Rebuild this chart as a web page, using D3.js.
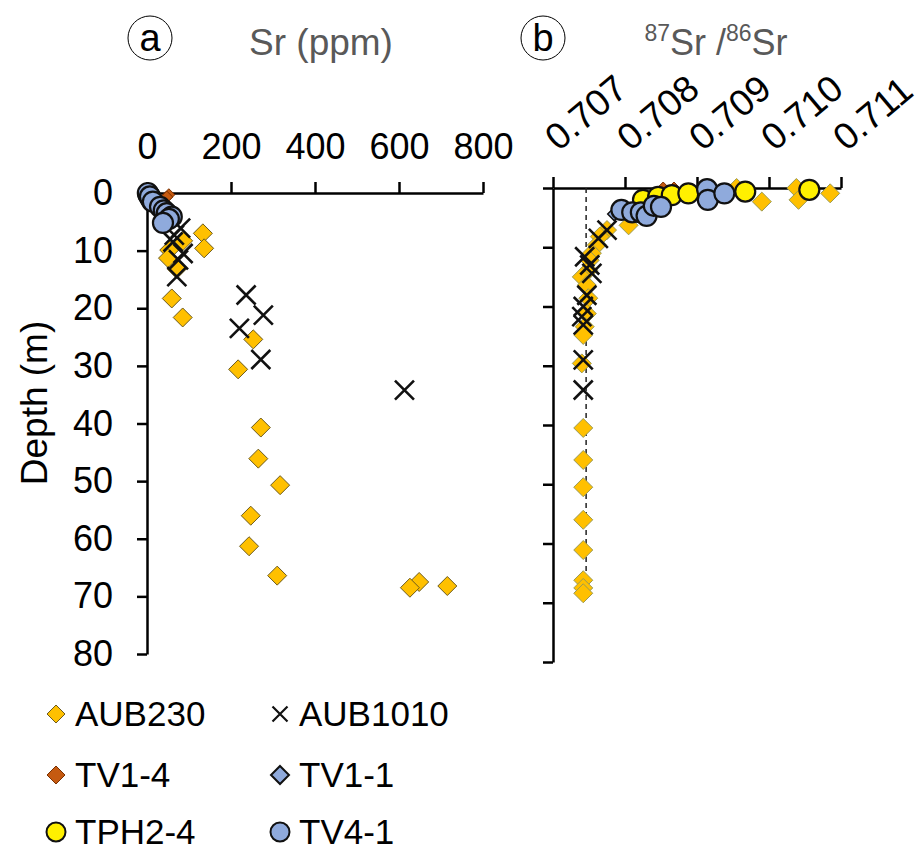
<!DOCTYPE html>
<html>
<head>
<meta charset="utf-8">
<script src="https://cdn.jsdelivr.net/npm/d3@7"></script>
<style>
  body { margin: 0; background: #fff; }
  svg text { font-family: "Liberation Sans", Arial, sans-serif; }
</style>
</head>
<body>
<div id="chart"></div>
<script>
// ---- data: [depth (m), value] ----
const srTicks = [0, 200, 400, 600, 800];
const ratioTicks = [0.707, 0.708, 0.709, 0.710, 0.711];
const depthTicks = [0, 10, 20, 30, 40, 50, 60, 70, 80];

const aub230Sr = [[7.0,133],[8.3,86],[9.6,136],[9.9,53],[11.3,50],[13.2,71],[18.3,59],[21.6,85],
  [25.4,253],[30.6,217],[40.7,271],[46.1,265],[50.7,317],[56.0,247],[61.3,243],[66.4,310],
  [67.5,648],[68.2,715],[68.5,626]];
const aub1010Sr = [[6.1,80],[7.3,65],[8.5,62],[10.5,86],[11.6,75],[14.5,71],[17.7,236],[21.2,277],
  [23.5,220],[28.9,271],[34.2,613]];
const tv14Sr = [[0.3,52],[0.7,47]];
const tv11Sr = [[0.2,5],[0.6,10]];
const tph24Sr = [[0.2,3],[0.6,6],[1.0,9],[1.4,12]];
const tv41Sr = [[0.0,2],[0.6,7],[1.5,14],[2.4,31],[3.0,40],[3.5,47],[4.1,59],[4.5,52],[5.2,38]];

const aub230Ratio = [[0,0.71038],[0.9,0.71085],[2.0,0.71041],[2.3,0.7099],[0,0.70955],[6.3,0.70805],
  [7.1,0.70775],[8.2,0.70765],[9.6,0.70761],[11,0.70754],[12.2,0.70751],[13.9,0.70749],[15,0.7074],
  [16.4,0.70747],[18.6,0.70749],[21.2,0.70747],[23.4,0.70744],[24.8,0.70742],[29.6,0.7074],
  [40.5,0.70742],[45.9,0.70742],[50.5,0.70742],[56,0.70742],[61.1,0.70742],[66.2,0.70742],
  [67.5,0.70742],[68.4,0.70742]];
const aub1010Ratio = [[7.1,0.70775],[8.5,0.70763],[11.6,0.70744],[13,0.70751],[14.4,0.70754],
  [18.1,0.70747],[20,0.70742],[21.7,0.7074],[23.1,0.70742],[29,0.70742],[34.1,0.70742]];
const tv14Ratio = [[0,0.70853],[0,0.70868]];
const tv11Ratio = [[4.4,0.70785],[3.9,0.70795]];
const tph24Ratio = [[2.0,0.70825],[1.5,0.70846],[1.2,0.70865],[0.9,0.70888],[0.6,0.70967],[0.3,0.71056]];
const tv41Ratio = [[3.7,0.70795],[4.1,0.7081],[4.1,0.70822],[4.7,0.7083],[3.0,0.7084],[3.2,0.7085],
  [0.2,0.70914],[2.0,0.70915],[0.9,0.70938]];

const refRatio = 0.70746;      // dashed reference line
const refDepths = [0, 69];

// ---- layout ----
const width = 922, height = 852;
const svg = d3.select("#chart").append("svg").attr("width", width).attr("height", height);

const xSr = d3.scaleLinear().domain([0, 800]).range([147, 483]);
const yA = d3.scaleLinear().domain([0, 80]).range([193, 654]);
const xR = d3.scaleLinear().domain([0.707, 0.711]).range([553, 841]);
const yB = d3.scaleLinear().domain([0, 80]).range([188, 662]);

const diamond = s => `M0,${-s/2}L${s/2},0L0,${s/2}L${-s/2},0Z`;
const cross = s => `M${-s/2},${-s/2}L${s/2},${s/2}M${-s/2},${s/2}L${s/2},${-s/2}`;

const styles = {
  aub230: {type: "diamond", size: 19, fill: "#FFC000", stroke: "#6b5a1e", sw: 1},
  aub1010: {type: "cross", size: 19, fill: "none", stroke: "#111", sw: 2.6},
  tv14: {type: "diamond", size: 12, fill: "#C55A11", stroke: "#7a3000", sw: 1},
  tv11: {type: "diamond", size: 13, fill: "#8FAADC", stroke: "#111", sw: 1.5},
  tph24: {type: "circle", size: 10, fill: "#FFF000", stroke: "#111", sw: 2.2},
  tv41: {type: "circle", size: 10, fill: "#8FAADC", stroke: "#111", sw: 2.2}
};

function drawMarks(g, data, st, x, y, orangeStroke) {
  const sel = g.append("g").selectAll("path, circle").data(data);
  if (st.type === "circle") {
    sel.join("circle")
      .attr("cx", d => x(d[1])).attr("cy", d => y(d[0])).attr("r", st.size)
      .attr("fill", st.fill).attr("stroke", st.stroke).attr("stroke-width", st.sw);
  } else {
    sel.join("path")
      .attr("transform", d => `translate(${x(d[1])},${y(d[0])})`)
      .attr("d", st.type === "diamond" ? diamond(st.size) : cross(st.size))
      .attr("fill", st.fill).attr("stroke", orangeStroke || st.stroke)
      .attr("stroke-width", st.sw);
  }
}

function styleAxis(g) {
  g.select(".domain").attr("stroke", "#000").attr("stroke-width", 2.5);
  g.selectAll(".tick line").attr("stroke", "#000").attr("stroke-width", 2.5);
  g.selectAll(".tick text").attr("fill", "#000").attr("font-size", 36)
    .attr("font-family", "Liberation Sans, Arial, sans-serif");
}

// ---- panel a ----
const ga = svg.append("g");
const xAxisA = ga.append("g").attr("transform", `translate(0,${yA(0)})`)
  .call(d3.axisTop(xSr).tickValues(srTicks).tickSize(11).tickSizeOuter(0));
styleAxis(xAxisA);
xAxisA.selectAll(".tick text").attr("dy", 0).attr("y", -34);

const yAxisA = ga.append("g").attr("transform", `translate(${xSr(0)},0)`)
  .call(d3.axisLeft(yA).tickValues(depthTicks).tickSize(10).tickSizeOuter(0).tickPadding(24));
styleAxis(yAxisA);

drawMarks(ga, aub230Sr, styles.aub230, xSr, yA);
drawMarks(ga, aub1010Sr, styles.aub1010, xSr, yA);
drawMarks(ga, tv14Sr, styles.tv14, xSr, yA);
drawMarks(ga, tv11Sr, styles.tv11, xSr, yA);
drawMarks(ga, tph24Sr, styles.tph24, xSr, yA);
drawMarks(ga, tv41Sr, styles.tv41, xSr, yA);

ga.append("text").attr("x", 321).attr("y", 55).attr("text-anchor", "middle")
  .attr("font-size", 37).attr("fill", "#595959").text("Sr (ppm)");

svg.append("text").attr("transform", "translate(47,403) rotate(-90)")
  .attr("text-anchor", "middle").attr("font-size", 37).attr("fill", "#000").text("Depth (m)");

// ---- panel b ----
const gb = svg.append("g");
const xAxisB = gb.append("g").attr("transform", `translate(0,${yB(0)})`)
  .call(d3.axisTop(xR).tickValues(ratioTicks).tickFormat(d3.format(".3f")).tickSize(11).tickSizeOuter(0));
styleAxis(xAxisB);
xAxisB.selectAll(".tick text")
  .attr("font-size", 37).attr("text-anchor", "start").attr("dy", 0).attr("y", 0)
  .attr("transform", "translate(5,-36) rotate(-40)");

const yAxisB = gb.append("g").attr("transform", `translate(${xR(0.707)},0)`)
  .call(d3.axisLeft(yB).tickValues(depthTicks).tickSize(10).tickSizeOuter(0).tickFormat(""));
styleAxis(yAxisB);

gb.append("line")
  .attr("x1", xR(refRatio)).attr("x2", xR(refRatio))
  .attr("y1", yB(refDepths[0])).attr("y2", yB(refDepths[1]))
  .attr("stroke", "#222").attr("stroke-width", 1.5).attr("stroke-dasharray", "5,4");

drawMarks(gb, aub230Ratio, styles.aub230, xR, yB, "#9a9a55");
drawMarks(gb, aub1010Ratio, styles.aub1010, xR, yB);
drawMarks(gb, tv14Ratio, styles.tv14, xR, yB);
drawMarks(gb, tv11Ratio, styles.tv11, xR, yB);
drawMarks(gb, tph24Ratio, styles.tph24, xR, yB);
drawMarks(gb, tv41Ratio, styles.tv41, xR, yB);

const tb = gb.append("text").attr("x", 716).attr("y", 55).attr("text-anchor", "middle")
  .attr("font-size", 36).attr("fill", "#595959");
tb.append("tspan").attr("font-size", 23).attr("dy", -14).text("87");
tb.append("tspan").attr("dy", 14).text("Sr /");
tb.append("tspan").attr("font-size", 23).attr("dy", -14).text("86");
tb.append("tspan").attr("dy", 14).text("Sr");

// ---- panel letters ----
[["a", 150], ["b", 543]].forEach(([t, cx]) => {
  svg.append("ellipse").attr("cx", cx).attr("cy", 38).attr("rx", 22).attr("ry", 22)
    .attr("fill", "none").attr("stroke", "#000").attr("stroke-width", 1);
  svg.append("text").attr("x", cx).attr("y", 51).attr("text-anchor", "middle")
    .attr("font-size", 38).attr("fill", "#000").text(t);
});

// ---- legend ----
const legendItems = [
  {name: "AUB230", key: "aub230", col: 0, row: 0},
  {name: "AUB1010", key: "aub1010", col: 1, row: 0},
  {name: "TV1-4", key: "tv14", col: 0, row: 1},
  {name: "TV1-1", key: "tv11", col: 1, row: 1},
  {name: "TPH2-4", key: "tph24", col: 0, row: 2},
  {name: "TV4-1", key: "tv41", col: 1, row: 2}
];
const legX = [56, 280], legY = [714, 775, 832];
const lg = svg.append("g");
legendItems.forEach(it => {
  const st = styles[it.key];
  const cx = legX[it.col], cy = legY[it.row];
  if (st.type === "circle") {
    lg.append("circle").attr("cx", cx).attr("cy", cy).attr("r", 9.5)
      .attr("fill", st.fill).attr("stroke", st.stroke).attr("stroke-width", 2);
  } else if (st.type === "diamond") {
    lg.append("path").attr("transform", `translate(${cx},${cy})`).attr("d", diamond(18))
      .attr("fill", st.fill).attr("stroke", st.stroke).attr("stroke-width", it.key === "tv11" ? 2 : 1);
  } else {
    lg.append("path").attr("transform", `translate(${cx},${cy})`).attr("d", cross(15))
      .attr("fill", "none").attr("stroke", st.stroke).attr("stroke-width", 2.2);
  }
  lg.append("text").attr("x", cx + 19).attr("y", cy + 12).attr("font-size", 35)
    .attr("fill", "#000").text(it.name);
});
</script>
</body>
</html>
